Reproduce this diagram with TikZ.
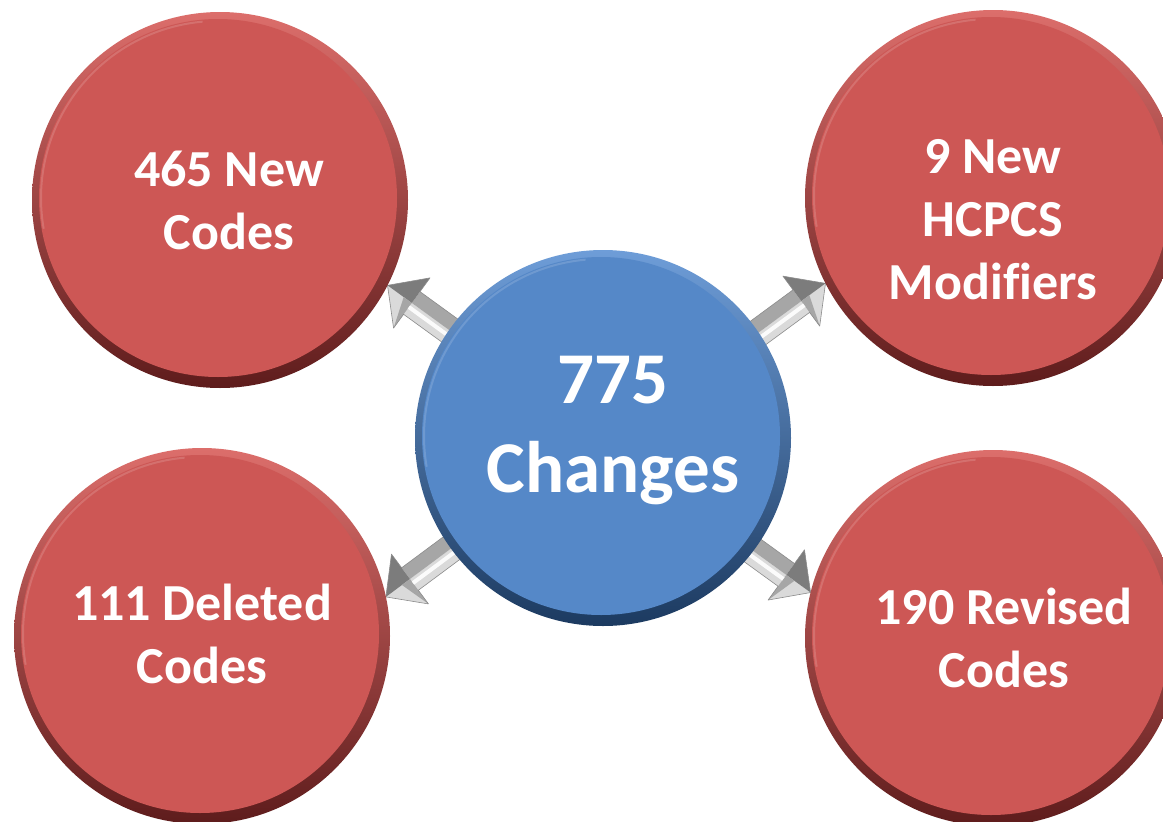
\documentclass[tikz,border=0pt]{standalone}
\usepackage{fontspec}
\setmainfont{Carlito}[Ligatures=CommonOff]
\usetikzlibrary{calc}
\pgfdeclarelayer{background}
\pgfsetlayers{background,main}
\definecolor{redfill}{HTML}{CD5755}
\definecolor{redlight}{HTML}{DC6E6B}
\definecolor{reddark}{HTML}{5E1C1C}
\definecolor{bluefill}{HTML}{5588C8}
\definecolor{bluelight}{HTML}{6E9DD8}
\definecolor{bluedark}{HTML}{1C3A60}
\definecolor{silverlight}{HTML}{DADADA}
\definecolor{silvermid}{HTML}{A6A6A6}
\definecolor{silverdark}{HTML}{7C7C7C}
\definecolor{silveredge}{HTML}{8C8C8C}
\tikzset{
  ball/.style={circle, minimum size=376pt, inner sep=0pt, outer sep=0pt, shading=axis, shading angle=45},
  redball/.style={ball, top color=redlight, bottom color=reddark,
    path picture={
      \fill[redfill] ([shift={(-2pt,2pt)}]path picture bounding box.center) circle (179pt);
      \draw[white, opacity=.15, line width=2pt] ([shift={(-2pt,2pt)}]path picture bounding box.center) ++(95:177pt) arc[start angle=95, end angle=190, radius=177pt];
    }},
  blueball/.style={ball, top color=bluelight, bottom color=bluedark,
    path picture={
      \fill[bluefill] ([shift={(-2pt,2pt)}]path picture bounding box.center) circle (179pt);
      \draw[white, opacity=.15, line width=2pt] ([shift={(-2pt,2pt)}]path picture bounding box.center) ++(95:177pt) arc[start angle=95, end angle=190, radius=177pt];
    }},
  ballText/.style={text=white, font=\bfseries\fontsize{52}{63}\selectfont, align=center, inner sep=0pt},
  bigText/.style={text=white, font=\bfseries\fontsize{73}{89}\selectfont, align=center, inner sep=0pt},
  arrowEdge/.style={draw=silveredge, line width=0.6pt, line join=round},
}
\newcommand\silverarrow[4]{% #1 start, #2 tip, #3 light side angle, #4 dark side angle
  \coordinate (hb) at ($(#2)!30pt!(#1)$);
  \fill[silverlight] (#1) -- ($(#1)!14pt!#3:(#2)$) -- ($(hb)!14pt!#3:(#2)$) -- ($(hb)!31pt!#3:(#2)$) -- (#2) -- (hb) -- cycle;
  \fill[silvermid] (#1) -- ($(#1)!14pt!#4:(#2)$) -- ($(hb)!14pt!#4:(#2)$) -- (hb) -- cycle;
  \fill[silverdark] (hb) -- ($(hb)!14pt!#4:(#2)$) -- ($(hb)!31pt!#4:(#2)$) -- (#2) -- cycle;
  \fill[silvermid] (hb) -- ($(hb)!14pt!#3:(#2)$) -- ($(hb)!31pt!#3:(#2)$) -- ($(hb)!10pt!(#2)$) -- cycle;
  \draw[white, line width=4pt, opacity=.9] ($(#1)!5pt!#3:(#2)$) -- ($(hb)!5pt!#3:(#2)$);
  \draw[arrowEdge] (#1) -- ($(#1)!14pt!#3:(#2)$) -- ($(hb)!14pt!#3:(#2)$) -- ($(hb)!31pt!#3:(#2)$) -- (#2) -- ($(hb)!31pt!#4:(#2)$) -- ($(hb)!14pt!#4:(#2)$) -- ($(#1)!14pt!#4:(#2)$) -- cycle;
}
\begin{document}
\begin{tikzpicture}[x=1pt, y=-1pt]
  \useasboundingbox (0,0) rectangle (1163,822);
  \clip (0,0) rectangle (1163,822);
  \begin{pgfonlayer}{background}
    \fill[white] (0,0) rectangle (1163,822);
  \end{pgfonlayer}
  \node[redball] (tl) at (220,200) {};
  \node[redball] (tr) at (993,198) {};
  \node[redball] (bl) at (202,636) {};
  \node[redball] (br) at (993,638) {};
  \node[blueball] (c) at (603,438) {};
  \node[ballText] (tlText) at ($(tl)+(9,0)$) {465 New\\Codes};
  \node[ballText] (trText) at ($(tr)+(0,22)$) {9 New\\HCPCS\\Modifiers};
  \node[ballText] (blText) at ($(bl)+(0,-2)$) {111 Deleted\\Codes};
  \node[ballText] (brText) at ($(br)+(11,0)$) {190 Revised\\Codes};
  \node[bigText] (cText) at ($(c)+(10,-7)$) {775\\Changes};
  \coordinate (ulS) at ($(c.145)!10pt!(c)$);
  \coordinate (ulE) at (tl.333);
  \coordinate (urS) at ($(c.34)!10pt!(c)$);
  \coordinate (urE) at (tr.207);
  \coordinate (llS) at ($(c.216)!10pt!(c)$);
  \coordinate (llE) at (bl.12);
  \coordinate (lrS) at ($(c.323)!10pt!(c)$);
  \coordinate (lrE) at (br.166);
  \begin{pgfonlayer}{background}
    \silverarrow{ulS}{ulE}{90}{-90}
    \silverarrow{urS}{urE}{-90}{90}
    \silverarrow{llS}{llE}{90}{-90}
    \silverarrow{lrS}{lrE}{-90}{90}
  \end{pgfonlayer}
\end{tikzpicture}
\end{document}
